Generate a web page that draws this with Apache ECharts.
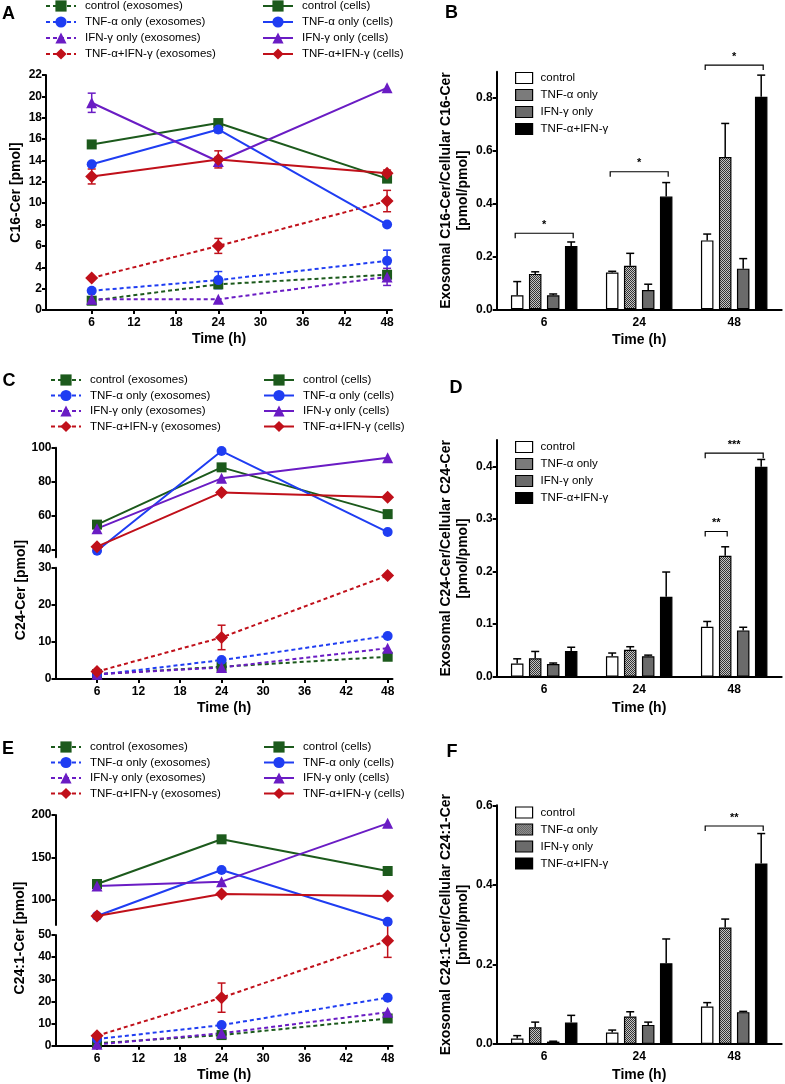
<!DOCTYPE html>
<html><head><meta charset="utf-8">
<script src="https://cdn.jsdelivr.net/npm/echarts@6/dist/echarts.min.js"></script>
<style>html,body{margin:0;padding:0;background:#fff}#c{width:785px;height:1084px}</style>
</head><body><div id="c"></div>
<script>
// ---------------- data ----------------
const HOURS = [6, 24, 48];
const HOUR_TICKS = [6, 12, 18, 24, 30, 36, 42, 48];
const GROUPS = ['control', 'TNF-α only', 'IFN-γ only', 'TNF-α+IFN-γ'];
const EXO_NAMES = ['control (exosomes)', 'TNF-α only (exosomes)', 'IFN-γ only (exosomes)', 'TNF-α+IFN-γ (exosomes)'];
const CELL_NAMES = ['control (cells)', 'TNF-α only (cells)', 'IFN-γ only (cells)', 'TNF-α+IFN-γ (cells)'];
const BAR_TIMES = ['6', '24', '48'];

// Panel A: C16-Cer [pmol]   rows = groups, cols = 6/24/48 h
const A_CELLS = [[15.5, 17.5, 12.3], [13.65, 16.9, 8.0], [19.4, 13.9, 20.8], [12.5, 14.1, 12.8]];
const A_CELLS_ERR = [[0, 0.2, 0.2], [0, 0.3, 0], [0.9, 0.4, 0], [0.7, 0.8, 0.3]];
const A_EXO = [[0.87, 2.4, 3.3], [1.8, 2.8, 4.6], [1.0, 1.0, 3.1], [3.0, 6.0, 10.2]];
const A_EXO_ERR = [[0, 0.3, 0.3], [0, 0.8, 1.0], [0, 0, 0.8], [0, 0.7, 1.0]];

// Panel C: C24-Cer [pmol]
const C_CELLS = [[54.6, 88.4, 60.8], [39.2, 98.0, 50.2], [52.2, 81.9, 94.1], [41.6, 73.6, 70.7]];
const C_CELLS_ERR = [[0, 0, 0], [0, 0, 0], [0, 0, 0], [0, 0, 0]];
const C_EXO = [[1.3, 3.3, 6.0], [1.1, 5.1, 11.6], [1.3, 3.1, 8.3], [2.0, 11.2, 27.9]];
const C_EXO_ERR = [[0, 0, 0], [0, 0, 0], [0, 0, 0], [0, 3.3, 0]];

// Panel E: C24:1-Cer [pmol]
const E_CELLS = [[118.8, 171.4, 134.1], [81.2, 135.3, 74.5], [116.5, 121.6, 190.2], [81.2, 107.1, 104.7]];
const E_CELLS_ERR = [[0, 0, 0], [0, 0, 0], [0, 0, 0], [0, 0, 0]];
const E_EXO = [[1.1, 4.8, 12.3], [3.0, 9.3, 21.7], [0.6, 5.6, 15.1], [4.5, 21.7, 47.4]];
const E_EXO_ERR = [[0, 0, 0], [0, 0, 0], [0, 0, 0], [0, 6.6, 7.5]];

// Panel B: exosomal / cellular C16-Cer ratio   rows = groups, cols = 6/24/48 h
const B_VALS = [[0.053, 0.139, 0.261], [0.134, 0.165, 0.577], [0.053, 0.073, 0.154], [0.24, 0.427, 0.805]];
const B_ERR = [[0.052, 0.005, 0.024], [0.008, 0.047, 0.127], [0.005, 0.022, 0.038], [0.015, 0.053, 0.082]];
// [time index, from group, to group, level, label]
const B_SIG = [[0, 0, 3, 0.288, '*'], [1, 0, 3, 0.521, '*'], [2, 0, 3, 0.925, '*']];

// Panel D: C24-Cer ratio
const D_VALS = [[0.025, 0.039, 0.095], [0.035, 0.051, 0.23], [0.024, 0.039, 0.088], [0.049, 0.152, 0.399]];
const D_ERR = [[0.009, 0.006, 0.01], [0.013, 0.006, 0.017], [0.002, 0.002, 0.006], [0.007, 0.047, 0.014]];
const D_SIG = [[2, 0, 1, 0.276, '**'], [2, 0, 3, 0.425, '***']];

// Panel F: C24:1-Cer ratio
const F_VALS = [[0.014, 0.029, 0.094], [0.042, 0.069, 0.293], [0.006, 0.048, 0.08], [0.054, 0.203, 0.454]];
const F_ERR = [[0.007, 0.006, 0.01], [0.013, 0.012, 0.021], [0.001, 0.007, 0.002], [0.018, 0.061, 0.075]];
const F_SIG = [[2, 0, 3, 0.548, '**']];

// ---------------- styles ----------------
const FONT = '"Liberation Sans", Arial, Helvetica, sans-serif';
const COLORS = ['#1c5a1c', '#1f3df2', '#6a1cc4', '#c0101a'];
const SYMBOLS = ['rect', 'circle', 'triangle', 'diamond'];
const SYMSIZE = [10, 10, 11, 13];
const BW = 12.5, GAPPX = 5.5;

const pc = document.createElement('canvas');
pc.width = 4; pc.height = 4;
(function () {
  const ctx = pc.getContext('2d');
  for (let x = 0; x < 4; x++) for (let y = 0; y < 4; y++) {
    ctx.fillStyle = (x + y) % 2 === 0 ? '#333333' : '#c4c4c4';
    ctx.fillRect(x, y, 1, 1);
  }
})();
const BAR_FILLS = ['#ffffff', { image: pc, repeat: 'repeat' }, '#6b6b6b', '#000000'];

const axisLineS = { show: true, onZero: false, lineStyle: { color: '#000', width: 2 } };
const tickS = { show: true, length: 4, lineStyle: { color: '#000', width: 2 } };
const labelS = { color: '#000', fontFamily: FONT, fontWeight: 'bold', fontSize: 12 };
const nameS = { color: '#000', fontFamily: FONT, fontWeight: 'bold', fontSize: 14 };

// ---------------- builders ----------------
function lineSet(names, vals, xi, yi, dashed) {
  return vals.map((v, g) => ({
    type: 'line', name: names[g], xAxisIndex: xi, yAxisIndex: yi,
    data: HOURS.map((h, i) => [h, v[i]]),
    symbol: SYMBOLS[g], symbolSize: SYMSIZE[g],
    itemStyle: { color: COLORS[g], borderWidth: 0 },
    lineStyle: { color: COLORS[g], width: 2, type: dashed ? [4, 3] : 'solid' },
    z: 3, animation: false, silent: true
  }));
}
function lineErr(vals, errs, xi, yi) {
  const data = [];
  vals.forEach((v, g) => v.forEach((y, i) => { if (errs[g][i] > 0) data.push([HOURS[i], y, errs[g][i], g]); }));
  return {
    type: 'custom', xAxisIndex: xi, yAxisIndex: yi, data, encode: { x: 0, y: 1 }, z: 2,
    animation: false, silent: true,
    renderItem: (p, api) => {
      const x = api.value(0), y = api.value(1), e = api.value(2), g = api.value(3);
      const t = api.coord([x, y + e]), b = api.coord([x, y - e]);
      const st = { stroke: COLORS[g], lineWidth: 1.5 };
      return { type: 'group', children: [
        { type: 'line', shape: { x1: t[0], y1: t[1], x2: b[0], y2: b[1] }, style: st },
        { type: 'line', shape: { x1: t[0] - 4, y1: t[1], x2: t[0] + 4, y2: t[1] }, style: st },
        { type: 'line', shape: { x1: b[0] - 4, y1: b[1], x2: b[0] + 4, y2: b[1] }, style: st }
      ] };
    }
  };
}
function barSet(vals, xi, yi) {
  return vals.map((v, g) => ({
    type: 'bar', name: GROUPS[g], xAxisIndex: xi, yAxisIndex: yi, data: v,
    barWidth: BW, barGap: (GAPPX / BW * 100) + '%',
    itemStyle: { color: BAR_FILLS[g], borderColor: '#000', borderWidth: 1.2 },
    animation: false, silent: true, z: 3
  }));
}
function barErr(vals, errs, xi, yi) {
  const data = [];
  vals.forEach((v, g) => v.forEach((y, t) => { if (errs[g][t] > 0) data.push([t, y, errs[g][t], g]); }));
  return {
    type: 'custom', xAxisIndex: xi, yAxisIndex: yi, data, encode: { x: 0, y: 1 }, z: 2,
    animation: false, silent: true,
    renderItem: (p, api) => {
      const t = api.value(0), y = api.value(1), e = api.value(2), g = api.value(3);
      const c = api.coord([t, y]), top = api.coord([t, y + e]);
      const x = c[0] + (g - 1.5) * (BW + GAPPX);
      const st = { stroke: '#000', lineWidth: 1.5 };
      return { type: 'group', children: [
        { type: 'line', shape: { x1: x, y1: c[1], x2: x, y2: top[1] }, style: st },
        { type: 'line', shape: { x1: x - 4, y1: top[1], x2: x + 4, y2: top[1] }, style: st }
      ] };
    }
  };
}
function brackets(sig, xi, yi) {
  return {
    type: 'custom', xAxisIndex: xi, yAxisIndex: yi, encode: { x: 0, y: 1 }, z: 4,
    data: sig.map(s => [s[0], s[3], s[1], s[2]]), animation: false, silent: true, clip: false,
    renderItem: (p, api) => {
      const t = api.value(0), lv = api.value(1), g1 = api.value(2), g2 = api.value(3);
      const c = api.coord([t, lv]);
      const x1 = c[0] + (g1 - 1.5) * (BW + GAPPX) - 2, x2 = c[0] + (g2 - 1.5) * (BW + GAPPX) + 2, y = c[1];
      return { type: 'group', children: [
        { type: 'polyline', shape: { points: [[x1, y + 5], [x1, y], [x2, y], [x2, y + 5]] }, style: { stroke: '#000', lineWidth: 1.2, fill: null } },
        { type: 'text', x: (x1 + x2) / 2, y: y - 3, style: { text: sig[p.dataIndex][4], font: 'bold 11px ' + FONT, fill: '#000', textAlign: 'center', textVerticalAlign: 'bottom', align: 'center', verticalAlign: 'bottom' } }
      ] };
    }
  };
}

// ---------------- axes ----------------
function hourAxis(gi, min, show) {
  if (!show) return { gridIndex: gi, type: 'value', min: min, max: 48.7, show: false };
  return {
    gridIndex: gi, type: 'value', min: min, max: 48.7,
    axisLine: axisLineS, axisTick: Object.assign({}, tickS, { customValues: HOUR_TICKS }),
    axisLabel: Object.assign({}, labelS, { margin: 7, customValues: HOUR_TICKS }),
    splitLine: { show: false },
    name: 'Time (h)', nameLocation: 'middle', nameGap: 22, nameTextStyle: nameS
  };
}
function catAxis(gi) {
  return {
    gridIndex: gi, type: 'category', data: BAR_TIMES,
    axisLine: axisLineS, axisTick: { show: false },
    axisLabel: Object.assign({}, labelS, { margin: 7 }),
    splitLine: { show: false },
    name: 'Time (h)', nameLocation: 'middle', nameGap: 24, nameTextStyle: nameS
  };
}
function valY(gi, min, max, ticks, fmt, name, nameGap) {
  const ax = {
    gridIndex: gi, type: 'value', min: min, max: max,
    axisLine: axisLineS, axisTick: Object.assign({}, tickS, { customValues: ticks }),
    axisLabel: Object.assign({}, labelS, { margin: 4, customValues: ticks }),
    splitLine: { show: false }
  };
  if (fmt) ax.axisLabel.formatter = fmt;
  if (name) Object.assign(ax, { name: name, nameLocation: 'middle', nameRotate: 90, nameGap: nameGap, nameTextStyle: Object.assign({}, nameS, { lineHeight: 17 }) });
  return ax;
}
const f1 = v => v.toFixed(1);

// ---------------- legends ----------------
const legText = { fontFamily: FONT, fontSize: 11.5, color: '#000', lineHeight: 13, padding: [0, 0, 0, 4] };
function lineLegend(names, left, top, gap) {
  return { data: names, left: left, top: top, orient: 'vertical', padding: 0, itemWidth: 30, itemHeight: 14, itemGap: gap, selectedMode: false, textStyle: legText };
}
function barLegend(top) {
  return {
    data: GROUPS.map((g, i) => ({ name: g, itemStyle: { color: BAR_FILLS[i], borderColor: '#000', borderWidth: 1.2 } })),
    left: 515, top: top, orient: 'vertical', padding: 0, icon: 'rect', itemWidth: 17, itemHeight: 11, itemGap: 4,
    selectedMode: false, textStyle: Object.assign({}, legText, { padding: [0, 0, 0, 3] })
  };
}

function letter(t, x, y) {
  return { type: 'text', x: x, y: y, style: { text: t, font: 'bold 18px ' + FONT, fill: '#000', textAlign: 'center', textVerticalAlign: 'middle', align: 'center', verticalAlign: 'middle' } };
}
function vTitle(t, x, y) {
  return { type: 'text', x: x, y: y, rotation: Math.PI / 2, style: { text: t, font: 'bold 14px ' + FONT, fill: '#000', textAlign: 'center', textVerticalAlign: 'middle', align: 'center', verticalAlign: 'middle' } };
}

const option = {
  backgroundColor: '#fff',
  animation: false,
  grid: [
    { left: 46, top: 75, width: 346, height: 235 },        // 0 A
    { left: 55.5, top: 447.7, width: 337, height: 109.6 }, // 1 C upper
    { left: 55.5, top: 567.7, width: 337, height: 111.3 }, // 2 C lower
    { left: 55.5, top: 815, width: 337, height: 110 },     // 3 E upper
    { left: 55.5, top: 935, width: 337, height: 110.7 },   // 4 E lower
    { left: 496.7, top: 71.7, width: 285, height: 237.6 }, // 5 B
    { left: 496.7, top: 440, width: 285, height: 236.7 },  // 6 D
    { left: 496.7, top: 805.3, width: 285, height: 238.7 } // 7 F
  ],
  xAxis: [
    hourAxis(0, -0.5, true), hourAxis(1, 0, false), hourAxis(2, 0, true),
    hourAxis(3, 0, false), hourAxis(4, 0, true),
    catAxis(5), catAxis(6), catAxis(7)
  ],
  yAxis: [
    valY(0, 0, 22, [0, 2, 4, 6, 8, 10, 12, 14, 16, 18, 20, 22], null, 'C16-Cer [pmol]', 20),
    valY(1, 35.3, 100, [40, 60, 80, 100]),
    valY(2, 0, 30, [0, 10, 20, 30]),
    valY(3, 70.6, 200, [100, 150, 200]),
    valY(4, 0, 50, [0, 10, 20, 30, 40, 50]),
    valY(5, 0, 0.9, [0, 0.2, 0.4, 0.6, 0.8], f1, 'Exosomal C16-Cer/Cellular C16-Cer\n[pmol/pmol]', 23),
    valY(6, 0, 0.45, [0, 0.1, 0.2, 0.3, 0.4], f1, 'Exosomal C24-Cer/Cellular C24-Cer\n[pmol/pmol]', 23),
    valY(7, 0, 0.6, [0, 0.2, 0.4, 0.6], f1, 'Exosomal C24:1-Cer/Cellular C24:1-Cer\n[pmol/pmol]', 23)
  ],
  legend: [
    lineLegend(EXO_NAMES, 45, -0.5, 3), lineLegend(CELL_NAMES, 262, -0.5, 3),
    lineLegend(EXO_NAMES, 50, 373.5, 2.5), lineLegend(CELL_NAMES, 263, 373.5, 2.5),
    lineLegend(EXO_NAMES, 50, 740.5, 2.5), lineLegend(CELL_NAMES, 263, 740.5, 2.5),
    barLegend(71.5), barLegend(440.5), barLegend(806)
  ],
  graphic: [
    letter('A', 8.5, 14), letter('B', 451.5, 13.5), letter('C', 9, 381),
    letter('D', 456, 388), letter('E', 8, 749), letter('F', 452, 752),
    vTitle('C24-Cer [pmol]', 21.5, 590), vTitle('C24:1-Cer [pmol]', 20, 938)
  ],
  series: [].concat(
    lineSet(EXO_NAMES, A_EXO, 0, 0, true), lineSet(CELL_NAMES, A_CELLS, 0, 0, false),
    [lineErr(A_EXO, A_EXO_ERR, 0, 0), lineErr(A_CELLS, A_CELLS_ERR, 0, 0)],
    lineSet(CELL_NAMES, C_CELLS, 1, 1, false), lineSet(EXO_NAMES, C_EXO, 2, 2, true),
    [lineErr(C_CELLS, C_CELLS_ERR, 1, 1), lineErr(C_EXO, C_EXO_ERR, 2, 2)],
    lineSet(CELL_NAMES, E_CELLS, 3, 3, false), lineSet(EXO_NAMES, E_EXO, 4, 4, true),
    [lineErr(E_CELLS, E_CELLS_ERR, 3, 3), lineErr(E_EXO, E_EXO_ERR, 4, 4)],
    barSet(B_VALS, 5, 5), [barErr(B_VALS, B_ERR, 5, 5), brackets(B_SIG, 5, 5)],
    barSet(D_VALS, 6, 6), [barErr(D_VALS, D_ERR, 6, 6), brackets(D_SIG, 6, 6)],
    barSet(F_VALS, 7, 7), [barErr(F_VALS, F_ERR, 7, 7), brackets(F_SIG, 7, 7)]
  )
};
const chart = echarts.init(document.getElementById('c'), null, { renderer: 'canvas' });
chart.setOption(option);
</script>
</body></html>
